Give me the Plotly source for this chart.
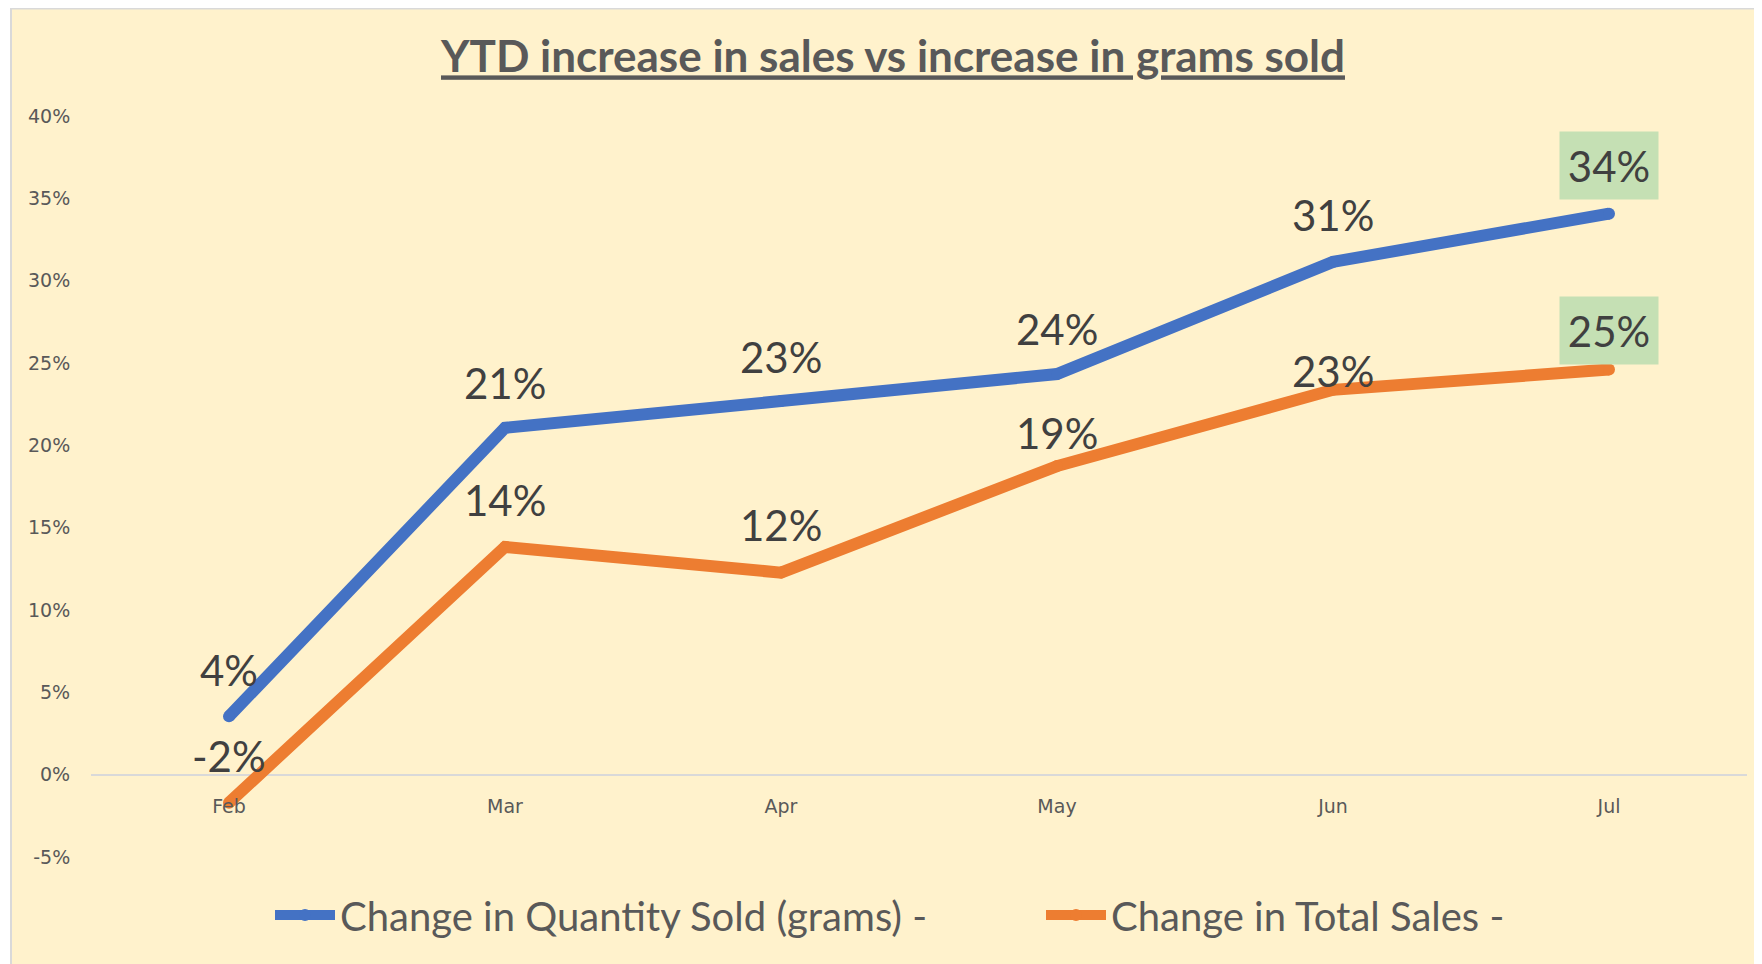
import plotly.graph_objects as go

# ---- data ----
months = ["Feb", "Mar", "Apr", "May", "Jun", "Jul"]
qty_change = [0.0354, 0.2106, 0.2269, 0.2433, 0.3114, 0.3407]
sales_change = [-0.0170, 0.1383, 0.1227, 0.1874, 0.2337, 0.2460]
series_names = ["Change in Quantity Sold (grams) -", "Change in Total Sales -"]
y_tick_vals = [-0.05, 0.0, 0.05, 0.10, 0.15, 0.20, 0.25, 0.30, 0.35, 0.40]
y_tick_text = [f"{v:.0%}" for v in y_tick_vals]
title_text = "YTD increase in sales vs increase in grams sold"

# ---- styles ----
BLUE = "#4472C4"
ORANGE = "#ED7D31"
TXT = "#595959"
LBL = "#404040"
HILITE = "#C5E0B4"
label_font = dict(family="Lato, Open Sans, sans-serif", size=42, color=LBL)
legend_font = dict(family="Lato, Open Sans, sans-serif", size=40, color=TXT)
qty_label_shift = [46, 45, 44, 45, 47, 48]
sales_label_shift = [47, 47, 48, 33, 19, 39]
LINE_W = 12

fig = go.Figure()
fig.add_trace(go.Scatter(x=months, y=qty_change, mode="lines+markers", name=series_names[0],
                         line=dict(color=BLUE, width=LINE_W),
                         marker=dict(color=BLUE, size=LINE_W, line=dict(width=0)),
                         hoverinfo="skip", legend="legend"))
fig.add_trace(go.Scatter(x=months, y=sales_change, mode="lines+markers", name=series_names[1],
                         line=dict(color=ORANGE, width=LINE_W),
                         marker=dict(color=ORANGE, size=LINE_W, line=dict(width=0)),
                         hoverinfo="skip", legend="legend2"))

annotations = []
for series, shifts in ((qty_change, qty_label_shift), (sales_change, sales_label_shift)):
    for i, (m, v) in enumerate(zip(months, series)):
        last = i == len(months) - 1
        ann = dict(x=m, y=v, xref="x", yref="y", text=f"{v:.0%}", showarrow=False,
                   yshift=shifts[i], xanchor="center", yanchor="middle", font=label_font)
        if last:
            ann.update(bgcolor=HILITE, borderpad=7, width=84, height=53)
        annotations.append(ann)

# the page has an 8px body margin; figure coords = page coords - 8
OFF = 8
W, H = 1762 - OFF, 964 - OFF
L = 91 - OFF
R = W - (1747 - OFF)
T = 116 - OFF
B = H - (857 - OFF)
pw, ph = W - L - R, H - T - B
bottom_px = H - B
shapes = [dict(type="rect", xref="paper", yref="paper",
               x0=(11 - OFF - L) / pw, x1=(W - L + 2) / pw,
               y0=-(H + 2 - bottom_px) / ph, y1=(bottom_px - 0.5) / ph,
               fillcolor="#FFF2CC", line=dict(color="#D9D9D9", width=2), layer="below")]

legend_y = -((915 - OFF) - bottom_px) / ph


def legend_at(px_left):
    return dict(orientation="h", x=(px_left - OFF - L) / pw, xanchor="left",
                y=legend_y, yanchor="middle", font=legend_font, itemwidth=60,
                bgcolor="rgba(0,0,0,0)", borderwidth=0)


fig.update_layout(
    width=W, height=H,
    margin=dict(l=L, r=R, t=T, b=B),
    paper_bgcolor="white", plot_bgcolor="rgba(0,0,0,0)",
    shapes=shapes, annotations=annotations,
    title=dict(text=f"<b>{title_text}</b>", x=(893 - OFF - L) / pw, xref="paper", xanchor="center",
               y=1 - (57 - OFF) / H, yref="container", yanchor="middle",
               font=dict(family="Lato, Open Sans, sans-serif", size=44, color=TXT, lineposition="under")),
    showlegend=True,
    legend=legend_at(270),
    legend2=legend_at(1041),
    xaxis=dict(type="category", range=[-0.5, 5.5], anchor="free", position=(0.05 / 0.45),
               showgrid=False, showline=False, zeroline=False,
               ticks="outside", ticklen=15, tickcolor="rgba(0,0,0,0)",
               tickfont=dict(family="DejaVu Sans", size=19, color=TXT)),
    yaxis=dict(range=[-0.05, 0.40], tickvals=y_tick_vals, ticktext=y_tick_text,
               showgrid=False, zeroline=True, zerolinecolor="#D9D9D9", zerolinewidth=1.5,
               showline=False, ticks="outside", ticklen=16, tickcolor="rgba(0,0,0,0)",
               tickfont=dict(family="DejaVu Sans", size=19, color=TXT)),
)

fig.write_html("out.html")
